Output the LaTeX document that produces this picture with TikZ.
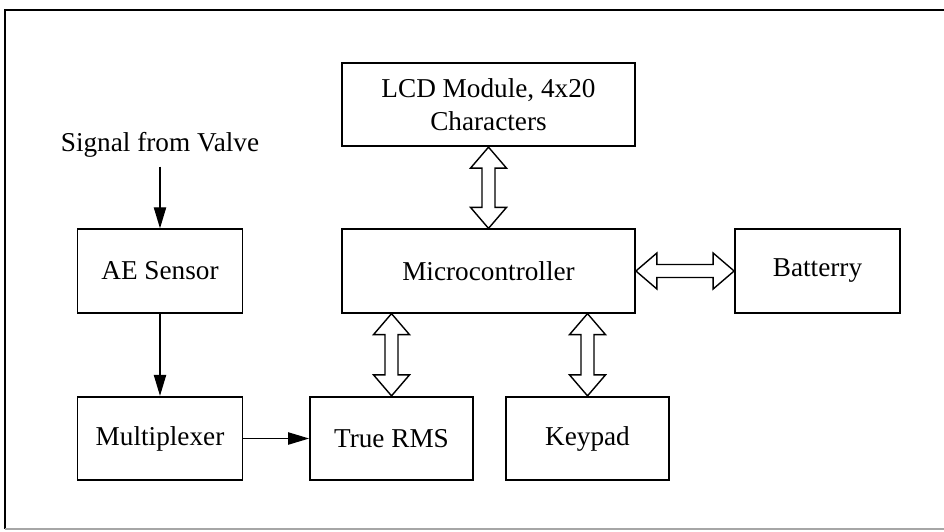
\documentclass[tikz,border=0pt]{standalone}
\usepackage{fontspec}
\setmainfont{Liberation Serif}
\usetikzlibrary{arrows.meta, positioning, calc}

% hollow two-headed arrow between two points
\newcommand{\dblarrow}[2]{%
	\path [hollow] let \p1 = (#1), \p2 = (#2),
	\n1 = {veclen(\x2-\x1,\y2-\y1)}, \n2 = {atan2(\y2-\y1,\x2-\x1)} in
	[shift={(\p1)}, rotate=\n2]
	(0,0) -- (0.42cm,0.36cm) -- (0.42cm,0.13cm) -- ({\n1*1pt-0.42cm},0.13cm)
	-- ({\n1*1pt-0.42cm},0.36cm) -- ({\n1*1pt},0) -- ({\n1*1pt-0.42cm},-0.36cm)
	-- ({\n1*1pt-0.42cm},-0.13cm) -- (0.42cm,-0.13cm) -- (0.42cm,-0.36cm) -- cycle;}

\begin{document}
\begin{tikzpicture}[node distance=3.35cm,on grid,>={Triangle[length=12pt,width=7pt]},
	font=\fontsize{15.5}{18.5}\selectfont,
	block/.style={draw, line width=1pt, minimum width=3.3cm, minimum height=1.67cm, align=center, inner sep=0pt},
	hollow/.style={draw, line width=0.8pt, fill=white, line join=miter}]
	
	\useasboundingbox (-3.2,-5.2) rectangle (15.68,5.42);
	\draw [line width=0.8pt] (15.68,5.22) -- (-3.1,5.22) -- (-3.1,-5.16);
	\draw [line width=0.8pt, black!35] (-3.1,-5.16) -- (15.68,-5.16);
	
	\node (ae) [block] {AE Sensor};
	\node (sig) [above=2.52cm of ae, inner sep=1pt] {Signal from Valve};
	\node (mux) [block, below of = ae] {Multiplexer};
	\node (micro) [block, minimum width=5.86cm, right=6.57cm of ae] {Microcontroller};
	\node (lcd) [block, minimum width=5.86cm, above=3.33cm of micro] {LCD Module, 4x20\\Characters};
	\node (batt) [block, right=6.58cm of micro] {Batterry};
	\node (trms) [block, minimum width=3.26cm, below left=3.35cm and 1.94cm of micro] {True RMS};
	\node (kpd) [block, minimum width=3.26cm, below right=3.35cm and 1.98cm of micro] {Keypad};
	
	\path [->, line width=0.8pt]
	(sig) edge [shorten <=4pt] (ae)
	(ae) edge (mux)
	(mux) edge (trms);
	
	\dblarrow{lcd.south}{micro.north}
	\dblarrow{trms.north |- micro.south}{trms.north}
	\dblarrow{kpd.north |- micro.south}{kpd.north}
	\dblarrow{micro.east}{batt.west}
	
\end{tikzpicture}
\end{document}
